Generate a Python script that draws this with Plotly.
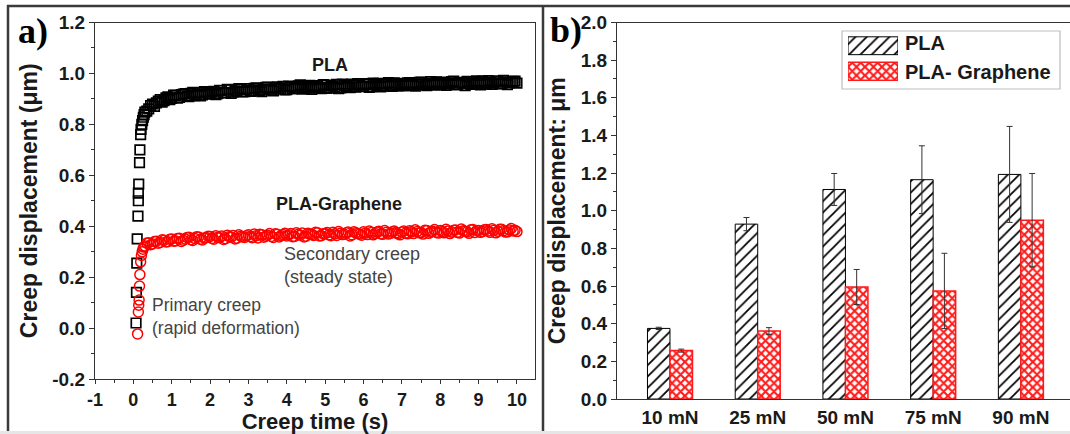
import plotly.graph_objects as go

# ---------------- Panel a: creep curves ----------------
pla_t_primary = [0.07, 0.08, 0.09, 0.10, 0.12, 0.13, 0.13, 0.14, 0.16, 0.17, 0.19, 0.20, 0.22, 0.24, 0.26, 0.28]
pla_y_primary = [0.02, 0.14, 0.255, 0.35, 0.44, 0.50, 0.53, 0.565, 0.65, 0.70, 0.76, 0.78, 0.80, 0.815, 0.828, 0.838]

gr_t_primary = [0.11, 0.13, 0.14, 0.15, 0.16, 0.17, 0.19, 0.21, 0.23, 0.25, 0.27]
gr_y_primary = [-0.023, 0.063, 0.09, 0.11, 0.165, 0.21, 0.26, 0.285, 0.30, 0.31, 0.318]

time_grid = [0.3, 0.4, 0.5, 0.6, 0.7, 0.8, 0.9,
             1.0, 1.1, 1.2, 1.3, 1.4, 1.5, 1.6, 1.7, 1.8, 1.9,
             2.0, 2.1, 2.2, 2.3, 2.4, 2.5, 2.6, 2.7, 2.8, 2.9,
             3.0, 3.1, 3.2, 3.3, 3.4, 3.5, 3.6, 3.7, 3.8, 3.9,
             4.0, 4.1, 4.2, 4.3, 4.4, 4.5, 4.6, 4.7, 4.8, 4.9,
             5.0, 5.1, 5.2, 5.3, 5.4, 5.5, 5.6, 5.7, 5.8, 5.9,
             6.0, 6.1, 6.2, 6.3, 6.4, 6.5, 6.6, 6.7, 6.8, 6.9,
             7.0, 7.1, 7.2, 7.3, 7.4, 7.5, 7.6, 7.7, 7.8, 7.9,
             8.0, 8.1, 8.2, 8.3, 8.4, 8.5, 8.6, 8.7, 8.8, 8.9,
             9.0, 9.1, 9.2, 9.3, 9.4, 9.5, 9.6, 9.7, 9.8, 9.9,
             10.0]

time_half = [0.35, 0.45, 0.55, 0.65, 0.75, 0.85, 0.95,
             1.05, 1.15, 1.25, 1.35, 1.45, 1.55, 1.65, 1.75, 1.85, 1.95,
             2.05, 2.15, 2.25, 2.35, 2.45, 2.55, 2.65, 2.75, 2.85, 2.95,
             3.05, 3.15, 3.25, 3.35, 3.45, 3.55, 3.65, 3.75, 3.85, 3.95,
             4.05, 4.15, 4.25, 4.35, 4.45, 4.55, 4.65, 4.75, 4.85, 4.95,
             5.05, 5.15, 5.25, 5.35, 5.45, 5.55, 5.65, 5.75, 5.85, 5.95,
             6.05, 6.15, 6.25, 6.35, 6.45, 6.55, 6.65, 6.75, 6.85, 6.95,
             7.05, 7.15, 7.25, 7.35, 7.45, 7.55, 7.65, 7.75, 7.85, 7.95,
             8.05, 8.15, 8.25, 8.35, 8.45, 8.55, 8.65, 8.75, 8.85, 8.95,
             9.05, 9.15, 9.25, 9.35, 9.45, 9.55, 9.65, 9.75, 9.85, 9.95]

pla_y_steady = [0.848, 0.861, 0.880, 0.884, 0.897, 0.893, 0.908,
                0.902, 0.914, 0.906, 0.919, 0.911, 0.922, 0.913, 0.925, 0.916, 0.927,
                0.919, 0.930, 0.921, 0.933, 0.924, 0.936, 0.926, 0.929, 0.938, 0.928,
                0.940, 0.931, 0.943, 0.933, 0.937, 0.946, 0.934, 0.944, 0.939, 0.949,
                0.936, 0.947, 0.941, 0.951, 0.938, 0.945, 0.953, 0.942, 0.949, 0.940,
                0.954, 0.944, 0.950, 0.957, 0.943, 0.952, 0.947, 0.958, 0.946, 0.955,
                0.949, 0.960, 0.948, 0.956, 0.961, 0.950, 0.958, 0.952, 0.963, 0.951,
                0.960, 0.954, 0.964, 0.953, 0.959, 0.966, 0.955, 0.962, 0.957, 0.967,
                0.956, 0.963, 0.958, 0.968, 0.955, 0.965, 0.960, 0.969, 0.957, 0.964,
                0.961, 0.970, 0.958, 0.966, 0.962, 0.971, 0.959, 0.967, 0.963, 0.969,
                0.962]

pla_y_half = [0.852, 0.874, 0.871, 0.891, 0.887, 0.904, 0.897,
              0.915, 0.903, 0.917, 0.921, 0.909, 0.926, 0.918, 0.912, 0.929, 0.921,
              0.926, 0.917, 0.934, 0.925, 0.937, 0.922, 0.932, 0.940, 0.927, 0.935,
              0.929, 0.941, 0.936, 0.928, 0.945, 0.938, 0.931, 0.947, 0.940, 0.935,
              0.950, 0.939, 0.944, 0.955, 0.941, 0.948, 0.937, 0.952, 0.945, 0.956,
              0.941, 0.953, 0.946, 0.940, 0.958, 0.949, 0.944, 0.955, 0.960, 0.948,
              0.957, 0.945, 0.962, 0.953, 0.947, 0.959, 0.964, 0.949, 0.956, 0.961,
              0.951, 0.963, 0.957, 0.950, 0.965, 0.958, 0.952, 0.968, 0.954, 0.961,
              0.966, 0.953, 0.962, 0.970, 0.957, 0.963, 0.952, 0.967, 0.961, 0.971,
              0.955, 0.964, 0.972, 0.957, 0.968, 0.960, 0.973, 0.956, 0.965, 0.970]

gr_y_steady = [0.322, 0.335, 0.330, 0.341, 0.336, 0.345, 0.339,
               0.350, 0.342, 0.353, 0.345, 0.356, 0.347, 0.352, 0.358, 0.346, 0.355,
               0.360, 0.349, 0.357, 0.362, 0.351, 0.359, 0.364, 0.353, 0.361, 0.356,
               0.366, 0.355, 0.363, 0.368, 0.357, 0.365, 0.360, 0.370, 0.358, 0.367,
               0.362, 0.371, 0.360, 0.368, 0.373, 0.361, 0.369, 0.364, 0.374, 0.363,
               0.371, 0.366, 0.376, 0.364, 0.372, 0.368, 0.377, 0.366, 0.374, 0.369,
               0.378, 0.367, 0.375, 0.371, 0.380, 0.368, 0.376, 0.372, 0.381, 0.370,
               0.377, 0.373, 0.382, 0.371, 0.379, 0.375, 0.384, 0.372, 0.380, 0.376,
               0.383, 0.374, 0.381, 0.377, 0.385, 0.373, 0.382, 0.378, 0.386, 0.375,
               0.383, 0.379, 0.387, 0.376, 0.384, 0.380, 0.388, 0.377, 0.385, 0.381,
               0.379]

gr_y_half = [0.334, 0.327, 0.340, 0.333, 0.347, 0.338, 0.349,
             0.341, 0.352, 0.340, 0.350, 0.357, 0.344, 0.359, 0.349, 0.354, 0.361,
             0.352, 0.363, 0.355, 0.348, 0.365, 0.357, 0.350, 0.366, 0.358, 0.363,
             0.359, 0.369, 0.354, 0.366, 0.361, 0.371, 0.356, 0.368, 0.363, 0.372,
             0.366, 0.359, 0.374, 0.365, 0.358, 0.372, 0.367, 0.376, 0.362, 0.370,
             0.375, 0.363, 0.370, 0.379, 0.367, 0.374, 0.362, 0.378, 0.371, 0.365,
             0.373, 0.381, 0.366, 0.377, 0.370, 0.383, 0.369, 0.378, 0.374, 0.366,
             0.381, 0.370, 0.378, 0.386, 0.374, 0.369, 0.383, 0.377, 0.387, 0.373,
             0.379, 0.388, 0.371, 0.384, 0.376, 0.389, 0.380, 0.372, 0.387, 0.383,
             0.376, 0.386, 0.381, 0.390, 0.374, 0.388, 0.382, 0.378, 0.391, 0.384]

x_ticks_a = [-1, 0, 1, 2, 3, 4, 5, 6, 7, 8, 9, 10]
x_labels_a = ["-1", "0", "1", "2", "3", "4", "5", "6", "7", "8", "9", "10"]
y_ticks_a = [-0.2, 0.0, 0.2, 0.4, 0.6, 0.8, 1.0, 1.2]
y_labels_a = ["-0.2", "0.0", "0.2", "0.4", "0.6", "0.8", "1.0", "1.2"]

# ---------------- Panel b: bar chart ----------------
loads = ["10 mN", "25 mN", "50 mN", "75 mN", "90 mN"]
pla_disp = [0.375, 0.929, 1.113, 1.165, 1.193]
pla_err = [0.006, 0.035, 0.085, 0.180, 0.255]
gr_disp = [0.257, 0.361, 0.595, 0.574, 0.950]
gr_err = [0.008, 0.018, 0.093, 0.200, 0.248]
y_ticks_b = [0.0, 0.2, 0.4, 0.6, 0.8, 1.0, 1.2, 1.4, 1.6, 1.8, 2.0]

legend_names = ["PLA- Graphene", "PLA"]
legend_len = [1, 1]

W, H = 1070, 434
def px(x):
    return x / W
def py(y):
    return 1 - y / H

AX = "#333333"
TXT = "#1a1a1a"
FONT = "Liberation Sans"

pla_pattern = dict(shape="/", fgcolor="black", bgcolor="white", size=8, solidity=0.22)
gr_pattern = dict(shape="x", fgcolor="#ff1a1a", bgcolor="white", size=6, solidity=0.58)

fig = go.Figure()

fig.add_trace(go.Scatter(
    x=pla_t_primary + time_grid + time_half, y=pla_y_primary + pla_y_steady + pla_y_half,
    mode="markers", xaxis="x", yaxis="y", showlegend=False,
    marker=dict(symbol="square-open", size=9.5, color="black", line=dict(width=1.7))))
fig.add_trace(go.Scatter(
    x=gr_t_primary + time_grid + time_half, y=gr_y_primary + gr_y_steady + gr_y_half,
    mode="markers", xaxis="x", yaxis="y", showlegend=False,
    marker=dict(symbol="circle-open", size=10, color="#ff0000", line=dict(width=1.5))))

fig.add_trace(go.Bar(
    x=loads, y=pla_disp, name="PLA", xaxis="x2", yaxis="y2", showlegend=False,
    marker=dict(color="white", pattern=pla_pattern, line=dict(color="black", width=1)),
    error_y=dict(type="data", array=pla_err, color="#333333", thickness=1, width=3)))
fig.add_trace(go.Bar(
    x=loads, y=gr_disp, name="PLA- Graphene", xaxis="x2", yaxis="y2", showlegend=False,
    marker=dict(color="white", pattern=gr_pattern, line=dict(color="#ff1a1a", width=1.5)),
    error_y=dict(type="data", array=gr_err, color="#333333", thickness=1, width=3)))

# legend keys (hidden axes)
fig.add_trace(go.Bar(
    x=legend_len[:1], y=legend_names[:1], orientation="h", xaxis="x3", yaxis="y3",
    showlegend=False, width=0.7, hoverinfo="skip",
    marker=dict(color="white", pattern=gr_pattern, line=dict(color="#ff1a1a", width=1.5))))
fig.add_trace(go.Bar(
    x=legend_len[1:], y=legend_names[1:], orientation="h", xaxis="x3", yaxis="y3",
    showlegend=False, width=0.7, hoverinfo="skip",
    marker=dict(color="white", pattern=pla_pattern, line=dict(color="black", width=1))))

tickfont = dict(family=FONT, size=19, color=TXT, weight="bold")
xtickfont = dict(family=FONT, size=18, color=TXT, weight="bold")
titlefont = dict(family=FONT, size=23, color=TXT, weight="bold")

fig.update_layout(
    width=W, height=H, margin=dict(l=0, r=0, t=0, b=0),
    paper_bgcolor="white", plot_bgcolor="white", template="none",
    showlegend=False, bargap=0.487, bargroupgap=0,
    xaxis=dict(domain=[px(95), px(535)], range=[-1, 10.47], tickvals=x_ticks_a, ticktext=x_labels_a,
               ticks="outside", ticklen=4, tickwidth=1.2, tickcolor=AX,
               minor=dict(dtick=0.5, ticks="outside", ticklen=3, tickcolor=AX, tickwidth=1),
               showline=True, linecolor=AX, linewidth=1.3, mirror=True, showgrid=False,
               zeroline=False, tickfont=xtickfont, automargin=False, ticklabelstandoff=0,
               title=dict(text="Creep time (s)", font=dict(family=FONT, size=22, color=TXT, weight="bold"),
                          standoff=4)),
    yaxis=dict(domain=[py(379), py(22.5)], range=[-0.2, 1.2], tickvals=y_ticks_a, ticktext=y_labels_a,
               ticks="outside", ticklen=5, tickwidth=1.2, tickcolor=AX,
               minor=dict(dtick=0.1, ticks="outside", ticklen=3, tickcolor=AX, tickwidth=1),
               showline=True, linecolor=AX, linewidth=1.3, mirror=True, showgrid=False,
               zeroline=False, tickfont=tickfont, automargin=False,
               title=dict(text="Creep displacement (μm)", font=titlefont, standoff=8)),
    xaxis2=dict(domain=[px(617), 1.0], range=[-0.604, 4.56], anchor="y2",
                ticks="", showline=True, linecolor=AX, linewidth=1.3, mirror=True,
                showgrid=False, zeroline=False, tickfont=tickfont, automargin=False,
                ticklabelstandoff=1),
    yaxis2=dict(domain=[py(399), py(22.5)], range=[0, 2.0], anchor="x2", tickvals=y_ticks_b,
                tickformat=".1f", ticks="outside", ticklen=5, tickwidth=1.2, tickcolor=AX,
                minor=dict(dtick=0.1, ticks="outside", ticklen=3, tickcolor=AX, tickwidth=1),
                showline=True, linecolor=AX, linewidth=1.3, mirror=False, showgrid=False,
                zeroline=False, tickfont=tickfont, automargin=False,
                title=dict(text="Creep displacement: μm", font=titlefont, standoff=8)),
    xaxis3=dict(domain=[px(848), px(898)], range=[0, 1], anchor="y3", visible=False,
                fixedrange=True),
    yaxis3=dict(domain=[py(84), py(33)], range=[-0.5, 1.5], anchor="x3", visible=False,
                fixedrange=True, categoryorder="array", categoryarray=legend_names),
)

shapes = []
# outer frame
shapes.append(dict(type="line", xref="paper", yref="paper", x0=px(7), x1=1.0, y0=py(6), y1=py(6),
                   line=dict(color="#3a3a3a", width=2.5)))
shapes.append(dict(type="line", xref="paper", yref="paper", x0=px(8), x1=px(8), y0=py(5), y1=0,
                   line=dict(color="#3a3a3a", width=2.5)))
shapes.append(dict(type="line", xref="paper", yref="paper", x0=px(543), x1=px(543), y0=py(5), y1=0,
                   line=dict(color="#3a3a3a", width=2.5)))
shapes.append(dict(type="rect", xref="paper", yref="paper", x0=0, x1=1, y0=0, y1=py(431),
                   line=dict(width=0), fillcolor="#e6e6e6"))
# legend box
shapes.append(dict(type="rect", xref="paper", yref="paper", x0=px(842), x1=px(1060), y0=py(89), y1=py(31),
                   line=dict(color="#bdbdbd", width=1.2), fillcolor="rgba(0,0,0,0)"))
fig.update_layout(shapes=shapes)

ann = []
def A(**kw):
    kw.setdefault("showarrow", False)
    kw.setdefault("xanchor", "center")
    kw.setdefault("yanchor", "middle")
    ann.append(kw)

A(text="<b>a)</b>", x=px(33), y=py(31), xref="paper", yref="paper",
  font=dict(family="Liberation Serif", size=36, color="black"))
A(text="<b>b)</b>", x=px(566), y=py(30), xref="paper", yref="paper",
  font=dict(family="Liberation Serif", size=36, color="black"))
A(text="<b>PLA</b>", x=5.12, y=1.035, xref="x", yref="y",
  font=dict(family=FONT, size=18, color=TXT))
A(text="<b>PLA-Graphene</b>", x=5.37, y=0.487, xref="x", yref="y",
  font=dict(family=FONT, size=18, color=TXT))
A(text="Secondary creep<br>(steady state)", x=3.88, y=0.245, xref="x", yref="y",
  xanchor="left", align="left", font=dict(family=FONT, size=18, color="#444444"))
A(text="Primary creep<br>(rapid deformation)", x=0.43, y=0.045, xref="x", yref="y",
  xanchor="left", align="left", font=dict(family=FONT, size=17.5, color="#444444"))
A(text="<b>PLA</b>", x=px(903), y=py(43), xref="paper", yref="paper",
  xanchor="left", font=dict(family=FONT, size=20, color=TXT))
A(text="<b>PLA- Graphene</b>", x=px(903), y=py(72), xref="paper", yref="paper",
  xanchor="left", font=dict(family=FONT, size=20, color=TXT))
fig.update_layout(annotations=ann)

fig.write_html("out.html")
